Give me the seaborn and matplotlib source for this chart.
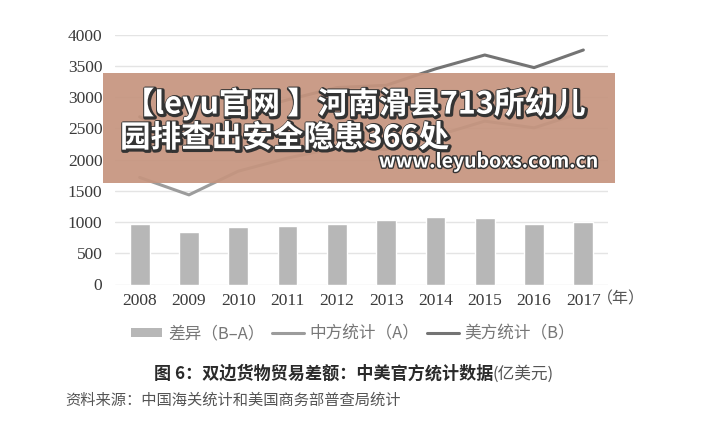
import numpy as np
import matplotlib
matplotlib.use('Agg')
import matplotlib.pyplot as plt
import matplotlib.patheffects as pe
from matplotlib.patches import Rectangle, Patch
from matplotlib.lines import Line2D
import seaborn as sns

years = ['2008', '2009', '2010', '2011', '2012', '2013', '2014', '2015', '2016', '2017']
diff_ba = [970, 836, 917, 932, 962, 1028, 1075, 1058, 963, 994]   # 差异（B-A）
china_a = [1713, 1434, 1813, 2023, 2189, 2159, 2375, 2614, 2507, 2758]  # 中方统计（A）
us_b = [2683, 2270, 2730, 2955, 3151, 3187, 3450, 3672, 3470, 3752]  # 美方统计（B）
y_ticks = [0, 500, 1000, 1500, 2000, 2500, 3000, 3500, 4000]
legend_labels = ['差异（B–A）', '中方统计（A）', '美方统计（B）']

sns.set_style('white')
plt.rcParams['font.family'] = ['Liberation Serif', 'Noto Sans CJK SC', 'DejaVu Sans']
cjk = ['Noto Sans CJK SC', 'DejaVu Sans']
serif = ['Liberation Serif', 'DejaVu Serif']

bar_c = '#b7b7b7'
a_c = '#9c9c9c'
b_c = '#747474'

fig = plt.figure(figsize=(7.2, 4.34), dpi=100)
ax = fig.add_axes([115 / 720, 1 - 284.5 / 434, 493 / 720, 250 / 434])

sns.barplot(x=years, y=diff_ba, color=bar_c, saturation=1, width=0.4, ax=ax)
xs = np.arange(len(years))
sns.lineplot(x=xs, y=china_a, color=a_c, lw=2.2, ax=ax)
sns.lineplot(x=xs, y=us_b, color=b_c, lw=2.2, ax=ax)

ax.set_xlim(-0.5, 9.5)
ax.set_ylim(0, 4000)
ax.set_yticks(y_ticks)
ax.set_yticklabels([str(v) for v in y_ticks], family=serif)
ax.set_xticks(xs)
ax.set_xticklabels(years, family=serif)
ax.set_xlabel('')
ax.set_ylabel('')
ax.set_axisbelow(True)
ax.yaxis.grid(True, color='#e4e4e4', lw=1)
sns.despine(ax=ax, left=True, bottom=True)
ax.tick_params(axis='y', length=0, pad=9, labelsize=12.5, labelcolor='#3a3a3a')
ax.tick_params(axis='x', length=0, pad=6, labelsize=12.5, labelcolor='#3a3a3a')

fig.text(597 / 720, 1 - 299 / 434, '（年）', family=cjk, fontsize=11.5,
         color='#555555', ha='left', va='center')

handles = [Patch(facecolor=bar_c, edgecolor='none'),
           Line2D([], [], color=a_c, lw=2.2),
           Line2D([], [], color=b_c, lw=2.2)]
fig.legend(handles, legend_labels, loc='center', bbox_to_anchor=(353 / 720, 1 - 334 / 434),
           ncol=3, frameon=False, prop={'family': cjk, 'size': 12}, labelcolor='#777777',
           handlelength=1.9, handleheight=0.45, handletextpad=0.35, columnspacing=0.45)

fig.text(493 / 720, 1 - 374 / 434, '图 6：双边货物贸易差额：中美官方统计数据', family=cjk,
         fontsize=12.3, weight='bold', color='#2a2a2a', ha='right', va='center')
fig.text(493 / 720, 1 - 374 / 434, '(亿美元)', family=cjk, fontsize=12,
         color='#555555', ha='left', va='center')
fig.text(65 / 720, 1 - 400 / 434, '资料来源：中国海关统计和美国商务部普查局统计', family=cjk,
         fontsize=11, color='#555555', ha='left', va='center')

# overlay banner
fig.add_artist(Rectangle((103 / 720, 1 - 183 / 434), 512 / 720, 110 / 434,
                         transform=fig.transFigure, facecolor='#c6957f', alpha=0.93,
                         edgecolor='none', zorder=5))
shadow = [pe.Stroke(linewidth=3, foreground='#333333', offset=(0.8, -0.8)), pe.Normal()]
fig.text(124 / 720, 1 - 104 / 434, '【leyu官网 】河南滑县713所幼儿', family=cjk, fontsize=22,
         weight='bold', color='white', ha='left', va='center', zorder=6, path_effects=shadow)
fig.text(120 / 720, 1 - 138 / 434, '园排查出安全隐患366处', family=cjk, fontsize=22,
         weight='bold', color='white', ha='left', va='center', zorder=6, path_effects=shadow)
fig.text(598 / 720, 1 - 162 / 434, 'www.leyuboxs.com.cn', family=cjk, fontsize=14,
         weight='bold', color='white', ha='right', va='center', zorder=6,
         path_effects=[pe.Stroke(linewidth=2, foreground='#333333'), pe.Normal()])

fig.savefig('out.png', dpi=100)
